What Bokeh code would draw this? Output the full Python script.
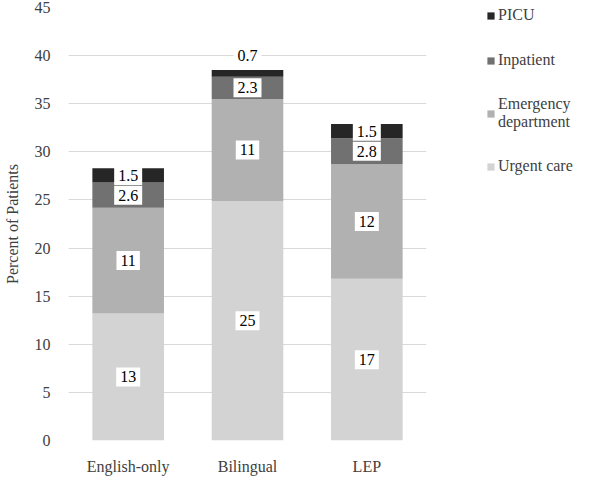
from bokeh.plotting import figure
from bokeh.models import ColumnDataSource, FactorRange, Legend, LegendItem, SingleIntervalTicker
from bokeh.core.properties import value
from bokeh.embed import file_html
from bokeh.resources import INLINE
import numpy as np

categories = ["English-only", "Bilingual", "LEP"]
series = ["Urgent care", "Emergency department", "Inpatient", "PICU"]
legend_labels = ["Urgent care", "Emergency\ndepartment", "Inpatient", "PICU"]
urgent_care = [13.2, 24.9, 16.8]
emergency = [11.0, 10.6, 11.9]
inpatient = [2.6, 2.3, 2.7]
picu = [1.5, 0.7, 1.5]
label_urgent = ["13", "25", "17"]
label_emergency = ["11", "11", "12"]
label_inpatient = ["2.6", "2.3", "2.8"]
label_picu = ["1.5", "0.7", "1.5"]
colors = ["#d3d3d3", "#b1b1b1", "#717171", "#262626"]

FONT = "Liberation Serif"
TXT = "#404040"

values = [urgent_care, emergency, inpatient, picu]
labels = [label_urgent, label_emergency, label_inpatient, label_picu]

p = figure(x_range=FactorRange(*categories), y_range=(0, 45),
           width=584, height=467, frame_width=358, frame_height=433,
           min_border_left=61, min_border_right=165, min_border_top=7, min_border_bottom=27,
           output_backend="svg", toolbar_location=None)

bottoms = np.zeros(3)
renderers = []
lx, ly, lt = [], [], []
for vals, lab, col in zip(values, labels, colors):
    vals = np.array(vals)
    tops = bottoms + vals
    src = ColumnDataSource(dict(x=categories, bottom=bottoms.tolist(), top=tops.tolist()))
    r = p.vbar(x="x", bottom="bottom", top="top", width=0.6, source=src,
               fill_color=col, line_color=None)
    renderers.append(r)
    for c, b, t, v, s in zip(categories, bottoms, tops, vals, lab):
        lx.append(c)
        ly.append(t + 1.5 if v < 1 else (b + t) / 2)
        lt.append(s)
    bottoms = tops

lsrc = ColumnDataSource(dict(x=lx, y=ly, text=lt))
p.text(x="x", y="y", text="text", source=lsrc, text_align="center", text_baseline="middle",
       text_font=value(FONT), text_font_size="16px", text_color="#000000",
       background_fill_color="white", padding=4)

legend = Legend(items=[LegendItem(label=legend_labels[i], renderers=[renderers[i]]) for i in [3, 2, 1, 0]],
                border_line_color=None, background_fill_alpha=0,
                label_text_font=FONT, label_text_font_size="16px", label_text_color=TXT,
                glyph_width=9, glyph_height=9, label_height=20, spacing=25,
                label_standoff=3, margin=0, padding=0, location=(60, 264))
p.add_layout(legend, "right")

p.yaxis.ticker = SingleIntervalTicker(interval=5)
p.ygrid.grid_line_color = "#d9d9d9"
p.ygrid.grid_line_width = 1
p.xgrid.grid_line_color = None
p.outline_line_color = None
for ax in (p.xaxis, p.yaxis):
    ax.axis_line_color = None
    ax.major_tick_line_color = None
    ax.minor_tick_line_color = None
    ax.major_label_text_font = FONT
    ax.major_label_text_font_size = "16px"
    ax.major_label_text_color = TXT
p.xaxis.major_label_standoff = 11
p.yaxis.major_label_standoff = 12
p.yaxis.axis_label = "Percent of Patients"
p.yaxis.axis_label_text_font = FONT
p.yaxis.axis_label_text_font_size = "16px"
p.yaxis.axis_label_text_font_style = "normal"
p.yaxis.axis_label_text_color = TXT
p.yaxis.axis_label_standoff = 11

open("out.html", "w").write(file_html(p, INLINE))
